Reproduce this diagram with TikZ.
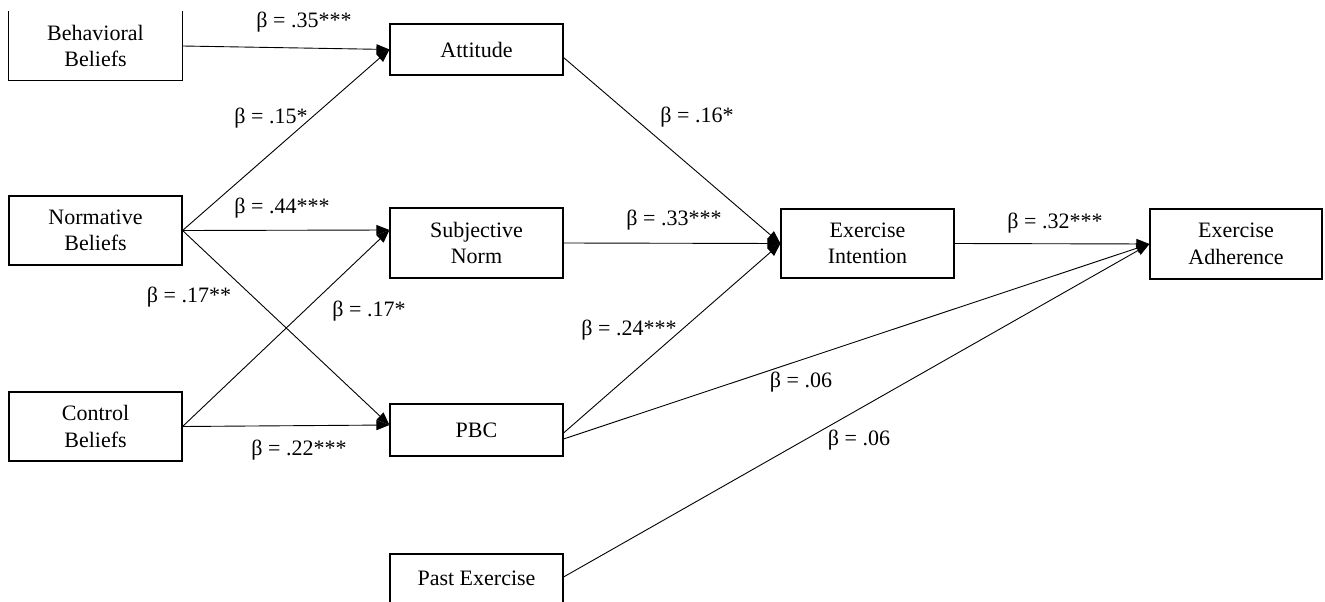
\documentclass[tikz,border=0pt]{standalone}
\usepackage{fontspec}
\setmainfont{Liberation Serif}
\usetikzlibrary{arrows.meta,calc}
\begin{document}
\begin{tikzpicture}[x=1pt,y=-1pt,
  box/.style={draw, line width=1.1pt, minimum width=173pt, inner sep=0pt, align=center, font=\fontsize{22}{26.5}\selectfont},
  lab/.style={font=\fontsize{22}{26}\selectfont, inner sep=0pt},
  conn/.style={line width=0.9pt, -{Triangle[length=13pt,width=10pt]}},
  side/.style={line width=1.1pt}]
\useasboundingbox (0,0) rectangle (1325,602);
\clip (0,0) rectangle (1325,602);
% boxes
\node[box, draw=none, minimum height=68pt] (bb) at (95.5,46) {Behavioral\\Beliefs};
\draw[side] (bb.north west) -- (bb.south west) -- (bb.south east) -- (bb.north east);
\node[box, minimum height=69pt] (nb) at (95.5,230.5) {Normative\\Beliefs};
\node[box, minimum height=69pt] (cb) at (95.5,426.5) {Control\\Beliefs};
\node[box, minimum height=51pt] (att) at (476.5,49.5) {Attitude};
\node[box, minimum height=70pt] (sn) at (476.5,243) {Subjective\\Norm};
\node[box, minimum height=52pt] (pbc) at (476.5,430) {PBC};
\node[box, minimum height=52pt] (pe) at (476.5,580) {\raisebox{4pt}{Past Exercise}};
\node[box, minimum height=69pt] (ei) at (867.5,243.5) {Exercise\\Intention};
\node[box, minimum width=172pt, minimum height=70pt] (ea) at (1236,244) {Exercise\\Adherence};
% connector end points
\coordinate (snin) at ([yshift=13pt]sn.west);
\coordinate (pbcin) at ([yshift=5pt]pbc.west);
\coordinate (attout) at ([yshift=-8pt]att.east);
\coordinate (pbcout1) at ([yshift=-3pt]pbc.east);
\coordinate (pbcout2) at ([yshift=-9pt]pbc.east);
\coordinate (peout) at ([yshift=3pt]pe.east);
% connectors
\draw[conn] (bb.east) -- (att.west);
\draw[conn] (nb.east) -- (att.west);
\draw[conn] (nb.east) -- (snin);
\draw[conn] (nb.east) -- (pbcin);
\draw[conn] (cb.east) -- (snin);
\draw[conn] (cb.east) -- (pbcin);
\draw[conn] (attout) -- (ei.west);
\draw[conn] (sn.east) -- (ei.west);
\draw[conn] (pbcout1) -- (ei.west);
\draw[conn] (ei.east) -- (ea.west);
\draw[conn] (pbcout2) -- (ea.west);
\draw[conn] (peout) -- (ea.west);
% labels
\node[lab] (l1) at (304,22) {β = .35***};
\node[lab] (l2) at (271,118) {β = .15*};
\node[lab] (l3) at (282,208) {β = .44***};
\node[lab] (l4) at (189,297) {β = .17**};
\node[lab] (l5) at (369,311) {β = .17*};
\node[lab] (l6) at (299,450) {β = .22***};
\node[lab] (l7) at (697,117) {β = .16*};
\node[lab] (l8) at (674,220) {β = .33***};
\node[lab] (l9) at (629,330) {β = .24***};
\node[lab] (l10) at (801,382) {β = .06};
\node[lab] (l11) at (859,440) {β = .06};
\node[lab] (l12) at (1055,223) {β = .32***};
\end{tikzpicture}
\end{document}
